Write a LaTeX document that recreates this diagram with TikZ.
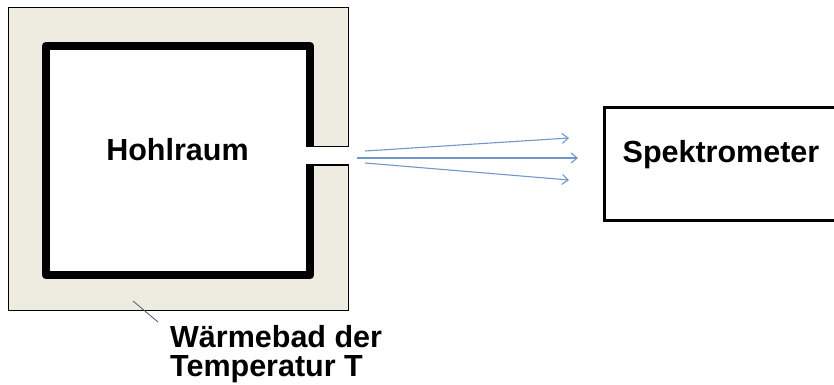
\documentclass[tikz,border=0pt]{standalone}
\usepackage{fontspec}
\setmainfont{Liberation Sans}
\usetikzlibrary{arrows.meta, positioning}
\definecolor{bathtan}{HTML}{EEECE1}
\definecolor{rayblue}{HTML}{7196CB}
\definecolor{leadgray}{HTML}{555555}
\tikzset{
    ray/.style={-{Straight Barb[length=6pt, width=10pt]}, line width=1.1pt, rayblue},
    bigtext/.style={font=\fontsize{30.5}{29}\selectfont\bfseries, inner sep=0pt}
}

\begin{document}
\begin{tikzpicture}[x=1pt, y=-1pt]
    \useasboundingbox (0,0) rectangle (834,384);

    \node[draw=black, line width=1pt, fill=bathtan, minimum width=340pt, minimum height=303pt, inner sep=0pt] (bath) at (178,158.5) {};
    \node[fill=white, minimum width=264pt, minimum height=229pt, inner sep=0pt] (cavity) at (178,160.5) {};
    \draw[line width=8pt, line join=round]
        (cavity.east |- 0,147) -- (cavity.north east) -- (cavity.north west)
        -- (cavity.south west) -- (cavity.south east) -- (cavity.east |- 0,165);

    % opening in the wall
    \coordinate (gaptop) at (306,146.5);
    \coordinate (gapbot) at (306,165);
    \fill[white] (gaptop) rectangle (bath.east |- gapbot);
    \draw[line width=1.6pt] (gaptop) -- (bath.east |- gaptop);
    \draw[line width=1.6pt] (gapbot) -- (bath.east |- gapbot);

    \node[bigtext] (hohl) at (177.5,150) {Hohlraum};

    \node[draw=black, line width=3pt, minimum width=260pt, minimum height=113pt, anchor=north west] (spek) at (603,106) {};
    \node[bigtext] (spektext) at (721,155) {Spektrometer};

    \coordinate (ray1s) at (365,151);
    \coordinate (ray2s) at (357,158);
    \coordinate (ray3s) at (365,163);
    \coordinate (ray1e) at (569,138);
    \coordinate (ray2e) at (578,158);
    \coordinate (ray3e) at (569,180);
    \draw[ray] (ray1s) -- (ray1e);
    \draw[ray] (ray2s) -- (ray2e);
    \draw[ray] (ray3s) -- (ray3e);

    \node[bigtext, align=left, anchor=north west] (bathtext) at (170,325) {W\"armebad der\\Temperatur T};
    \coordinate (leadfoot) at (133,301);
    \coordinate (leadtip) at (158,322);
    \draw[leadgray, line width=0.8pt] (leadfoot) -- (leadtip);
\end{tikzpicture}
\end{document}
